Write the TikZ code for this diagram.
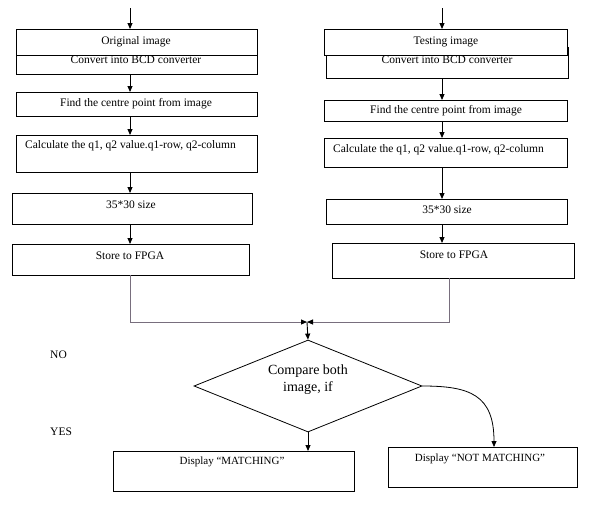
\documentclass[tikz,border=0pt]{standalone}
\usepackage{fontspec}
\setmainfont{Liberation Serif}
\usetikzlibrary{arrows.meta,shapes.geometric}
\begin{document}
\begin{tikzpicture}[x=1pt,y=-1pt,
  box/.style={draw=black,line width=0.9pt,fill=white,inner sep=0pt,outer sep=0pt},
  txt/.style={inner sep=0pt,font=\fontsize{11.5}{13}\selectfont},
  arr/.style={line width=0.9pt,-{Triangle[length=6pt,width=5pt]}},
  link/.style={draw={rgb,255:red,120;green,110;blue,125},line width=1pt},
  linkarr/.style={link,-{Triangle[length=6pt,width=5pt,color=black,fill=black]}}]
\useasboundingbox (0,0) rectangle (609,506);
% helper for rectangles by corners
\newcommand{\mybox}[5]{\node[box,minimum width={#4-#2},minimum height={#5-#3}] (#1) at ({(#2+#4)/2},{(#3+#5)/2}) {};}
% ---------- left column ----------
\coordinate (inL) at (130,8);
\mybox{convL}{16}{45}{257}{74}
\node[txt] (convLt) at (136,60) {Convert into BCD converter};
\mybox{origL}{16}{29}{257}{55}
\node[txt] (origLt) at (136,42) {Original image};
\mybox{findL}{16}{92}{257}{116}
\node[txt] (findLt) at (136,104) {Find the centre point from image};
\mybox{calcL}{16}{135}{257}{172}
\node[txt,anchor=west] (calcLt) at (25,146) {Calculate the q1, q2 value.q1-row, q2-column};
\mybox{sizeL}{12}{193}{252}{224}
\node[txt] (sizeLt) at (131,205) {35*30 size};
\mybox{storeL}{12}{244}{249}{275}
\node[txt] (storeLt) at (130,256) {Store to FPGA};
\draw[arr] (inL) -- (origL.north -| inL);
\draw[arr] (convL.south -| inL) -- (findL.north -| inL);
\draw[arr] (findL.south -| inL) -- (calcL.north -| inL);
\draw[arr] (calcL.south -| inL) -- (sizeL.north -| inL);
\draw[arr] (sizeL.south -| inL) -- (storeL.north -| inL);
% ---------- right column ----------
\coordinate (inR) at (442,8);
\mybox{convR}{326}{47}{568}{78}
\node[txt] (convRt) at (447,60) {Convert into BCD converter};
\mybox{testR}{324}{29}{567}{55}
\node[txt] (testRt) at (446,42) {Testing image};
\mybox{findR}{324}{100}{567}{121}
\node[txt] (findRt) at (446,111) {Find the centre point from image};
\mybox{calcR}{324}{138}{567}{167}
\node[txt,anchor=west] (calcRt) at (333,150) {Calculate the q1, q2 value.q1-row, q2-column};
\mybox{sizeR}{326}{199}{567}{224}
\node[txt] (sizeRt) at (447,210) {35*30 size};
\mybox{storeR}{332}{243}{574}{278}
\node[txt] (storeRt) at (454,255) {Store to FPGA};
\draw[arr] (inR) -- (testR.north -| inR);
\draw[arr] (convR.south -| inR) -- (findR.north -| inR);
\draw[arr] (findR.south -| inR) -- (calcR.north -| inR);
\draw[arr] (calcR.south -| inR) -- (sizeR.north -| inR);
\draw[arr] (sizeR.south -| inR) -- (storeR.north -| inR);
% ---------- merge ----------
\coordinate (m) at (307,322);
\coordinate (sL) at (130,275);
\coordinate (sR) at (449,278);
\draw[linkarr] (sL) |- (m);
\draw[linkarr] (sR) |- (m);
% ---------- decision ----------
\node[draw=black,line width=0.8pt,diamond,aspect=2.48,minimum width=228pt,minimum height=92pt,inner sep=0pt] (dec) at (308,386) {};
\node[txt,align=center,font=\fontsize{14}{17}\selectfont] (dect) at (308,380) {Compare both\\image, if};
\draw[arr] (m) -- (dec.north);
\node[txt,anchor=west] (no) at (50,355) {NO};
\node[txt,anchor=west] (yes) at (50,432) {YES};
\mybox{match}{113}{451}{354}{491}
\node[txt,font=\fontsize{11}{13}\selectfont] (matcht) at (232,462) {Display “MATCHING”};
\mybox{nomatch}{388}{447}{577}{487}
\node[txt,font=\fontsize{11}{13}\selectfont] (nomatcht) at (480,459) {Display “NOT MATCHING”};
\draw[arr] (dec.south) -- (match.north -| dec.south);
\coordinate (cv) at (494,447);
\draw[arr,line width=0.8pt] (dec.east) .. controls (470,386) and (494,395) .. (nomatch.north -| cv);
\end{tikzpicture}
\end{document}
